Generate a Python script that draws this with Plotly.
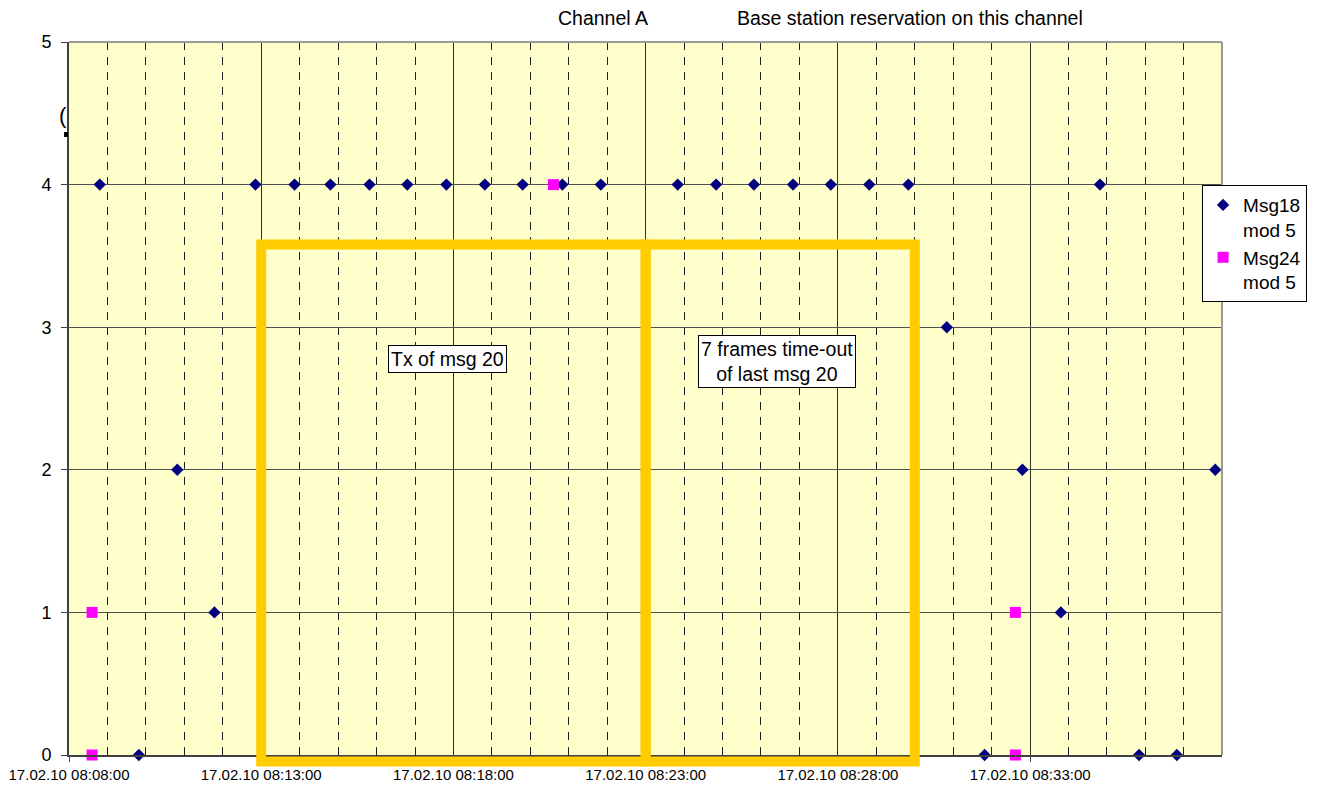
import plotly.graph_objects as go

DAY = '2010-02-17 '

# Msg18 mod 5 (navy diamonds)
msg18_times = ['08:08:48', '08:09:49', '08:10:49', '08:11:47', '08:12:51', '08:13:52',
               '08:14:48', '08:15:49', '08:16:48', '08:17:49', '08:18:49', '08:19:48',
               '08:20:50', '08:21:50', '08:23:50', '08:24:50', '08:25:49', '08:26:50',
               '08:27:49', '08:28:49', '08:29:50', '08:30:50', '08:31:49', '08:32:48',
               '08:33:48', '08:34:49', '08:35:50', '08:36:49', '08:37:49']
msg18_vals = [4, 0, 2, 1, 4, 4,
              4, 4, 4, 4, 4, 4,
              4, 4, 4, 4, 4, 4,
              4, 4, 4, 3, 0, 2,
              1, 4, 0, 0, 2]

# Msg24 mod 5 (magenta squares)
msg24_times = ['08:08:36', '08:08:36', '08:20:36', '08:32:37', '08:32:37']
msg24_vals = [1, 0, 4, 1, 0]

# reservation boxes (start, end, top value)
box_starts = ['08:13:00', '08:23:00']
box_ends = ['08:23:00', '08:30:00']
box_top = 3.58
box_bottom = -0.045

X_START = DAY + '08:08:00'
X_END = DAY + '08:37:59.5'
Y_MAX = 5

FONT = 'Liberation Sans, Arial, sans-serif'

fig = go.Figure()

fig.add_trace(go.Scatter(
    x=[DAY + t for t in msg18_times],
    y=msg18_vals,
    mode='markers',
    name='Msg18<br>mod 5',
    marker={'symbol': 'diamond', 'size': 9.5, 'color': '#000080'},
    cliponaxis=False,
))

fig.add_trace(go.Scatter(
    x=[DAY + t for t in msg24_times],
    y=msg24_vals,
    mode='markers',
    name='Msg24<br>mod 5',
    marker={'symbol': 'square', 'size': 11, 'color': '#FF00FF'},
    cliponaxis=False,
))

shapes = []
for s, e in zip(box_starts, box_ends):
    shapes.append({
        'type': 'rect', 'xref': 'x', 'yref': 'paper',
        'x0': DAY + s, 'x1': DAY + e,
        'y0': box_bottom / Y_MAX, 'y1': box_top / Y_MAX,
        'line': {'color': '#FFCC00', 'width': 10},
        'fillcolor': 'rgba(0,0,0,0)',
    })

# plot area border on top / right
shapes.append({'type': 'line', 'xref': 'paper', 'yref': 'paper', 'x0': 0, 'x1': 1, 'y0': 1, 'y1': 1,
               'line': {'color': '#9a9a9a', 'width': 2}})
shapes.append({'type': 'line', 'xref': 'paper', 'yref': 'paper', 'x0': 1, 'x1': 1, 'y0': 0, 'y1': 1,
               'line': {'color': '#9a9a9a', 'width': 2}})
# leftover of hidden title
shapes.append({'type': 'rect', 'xref': 'paper', 'yref': 'paper',
               'x0': -0.0043, 'x1': -0.0009, 'y0': 0.8668, 'y1': 0.8738,
               'line': {'width': 0}, 'fillcolor': 'black'})

annotations = [
    {'text': 'Channel A', 'xref': 'paper', 'yref': 'paper', 'x': 0.4224, 'y': 1.0337,
     'xanchor': 'left', 'yanchor': 'middle', 'showarrow': False,
     'font': {'size': 19.5, 'color': 'black'}},
    {'text': 'Base station reservation on this channel', 'xref': 'paper', 'yref': 'paper',
     'x': 0.5776, 'y': 1.0337, 'xanchor': 'left', 'yanchor': 'middle', 'showarrow': False,
     'font': {'size': 19.5, 'color': 'black'}},
    {'text': 'Tx of msg 20', 'x': DAY + '08:17:51', 'y': 2.777, 'showarrow': False,
     'bgcolor': 'white', 'bordercolor': 'black', 'borderwidth': 1, 'borderpad': 2,
     'font': {'size': 19.5, 'color': 'black'}},
    {'text': '7 frames time-out<br>of last msg 20', 'x': DAY + '08:26:25', 'y': 2.763,
     'showarrow': False, 'align': 'center',
     'bgcolor': 'white', 'bordercolor': 'black', 'borderwidth': 1, 'borderpad': 2,
     'font': {'size': 19.5, 'color': 'black'}},
    {'text': '(', 'xref': 'paper', 'yref': 'paper', 'x': 0.0, 'y': 0.8976,
     'xanchor': 'right', 'yanchor': 'middle', 'showarrow': False,
     'font': {'size': 22, 'color': 'black'}},
]

# page body has an 8px margin, so the figure is 8px smaller than the window
fig['layout'] = {
    'width': 1312,
    'height': 779,
    'margin': {'l': 61, 'r': 98, 't': 34, 'b': 32, 'autoexpand': False},
    'paper_bgcolor': '#FFFFFF',
    'plot_bgcolor': '#FFFFCC',
    'font': {'family': FONT, 'color': 'black'},
    'showlegend': True,
    'legend': {
        'x': 0.9827, 'y': 0.7994, 'xanchor': 'left', 'yanchor': 'top',
        'bgcolor': 'white', 'bordercolor': 'black', 'borderwidth': 1,
        'font': {'size': 19, 'color': 'black'},
        'valign': 'top', 'tracegroupgap': 4,
    },
    'xaxis': {
        'type': 'date',
        'range': [X_START, X_END],
        'tick0': X_START,
        'dtick': 5 * 60 * 1000,
        'tickformat': '%d.%m.%y %H:%M:%S',
        'tickfont': {'size': 15},
        'ticklabeloverflow': 'allow',
        'ticks': 'outside', 'ticklen': 5, 'tickcolor': '#404040',
        'showgrid': True, 'gridcolor': '#303030', 'gridwidth': 1,
        'minor': {'dtick': 60 * 1000, 'tick0': X_START, 'showgrid': True,
                  'gridcolor': '#202020', 'gridwidth': 1, 'griddash': '8px,7px'},
        'showline': True, 'linecolor': '#404040', 'linewidth': 2,
        'zeroline': False, 'automargin': False,
    },
    'yaxis': {
        'range': [0, Y_MAX],
        'dtick': 1,
        'tickfont': {'size': 18},
        'ticks': 'outside', 'ticklen': 6, 'tickcolor': '#404040',
        'ticklabelstandoff': 6,
        'showgrid': True, 'gridcolor': '#505050', 'gridwidth': 1,
        'showline': True, 'linecolor': '#404040', 'linewidth': 2,
        'zeroline': False, 'automargin': False,
    },
    'shapes': shapes,
    'annotations': annotations,
}

fig.write_html('out.html')
